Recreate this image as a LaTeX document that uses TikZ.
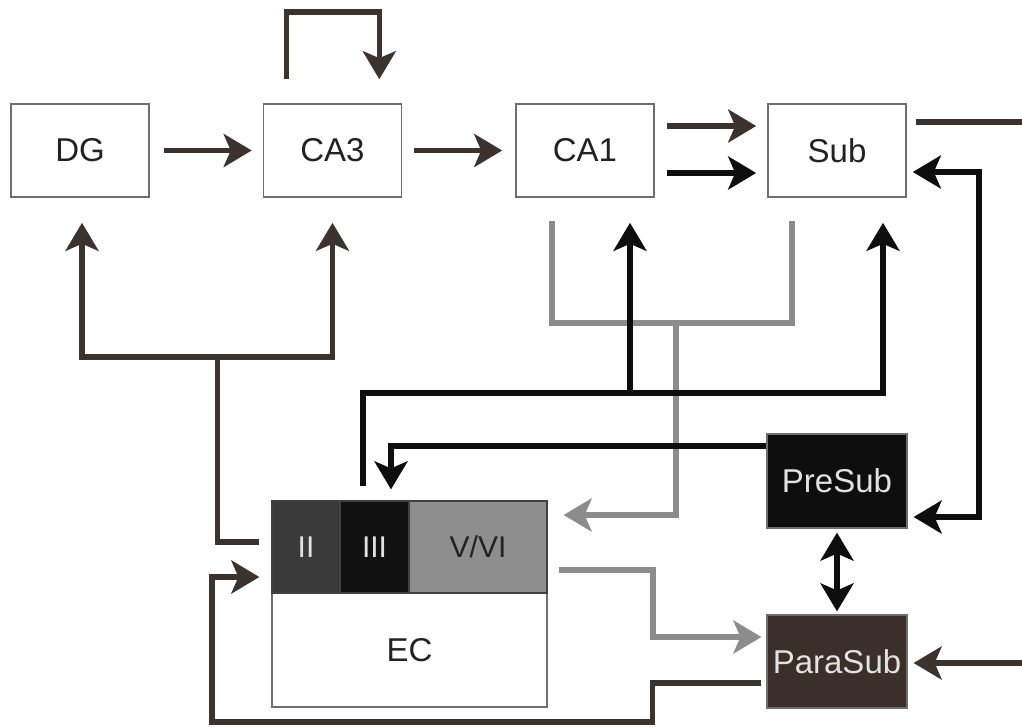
\documentclass[tikz,border=0pt]{standalone}
\usepackage{fontspec}
\setmainfont{Liberation Sans}
\usetikzlibrary{arrows.meta,calc}
\definecolor{cbrown}{HTML}{3C332E}
\definecolor{cblack}{HTML}{0E0E0E}
\definecolor{cgray}{HTML}{8C8C8C}
\definecolor{cbox}{HTML}{6E6E6E}
\definecolor{cII}{HTML}{3A3A3A}
\definecolor{cIII}{HTML}{111111}
\definecolor{cV}{HTML}{8E8E8E}
\definecolor{cpara}{HTML}{3A2F29}
\definecolor{ctext}{HTML}{222222}
\definecolor{clight}{HTML}{E2E2E2}
\begin{document}
\begin{tikzpicture}[x=1pt,y=-1pt,
  box/.style={draw=cbox,line width=1.6pt,fill=white,minimum width=138pt,minimum height=93pt,inner sep=0pt,font=\fontsize{33}{33}\selectfont,text=ctext},
  dbox/.style={draw=cbox,line width=1.2pt,minimum width=140pt,minimum height=94pt,inner sep=0pt,font=\fontsize{33}{33}\selectfont,text=clight},
  cell/.style={draw=black!75,line width=1.2pt,minimum height=92pt,inner sep=0pt,font=\fontsize{30}{30}\selectfont},
  conn/.style={line width=5.5pt},
  tip/.style={-{Stealth[length=28pt,width=33pt,inset=7pt]}},
  dtip/.style={{Stealth[length=28pt,width=33pt,inset=7pt]}-{Stealth[length=28pt,width=33pt,inset=7pt]}},
  brownc/.style={conn,draw=cbrown},
  blackc/.style={conn,draw=cblack},
  grayc/.style={conn,draw=cgray}]
\useasboundingbox (0,0) rectangle (1022,726);

% nodes
\node[box] (DG)  at (80,150.5)  {DG};
\node[box] (CA3) at (332.5,150.5) {CA3};
\node[box] (CA1) at (585,150.5) {CA1};
\node[box] (Sub) at (837,150.5) {Sub};
\node[dbox,fill=cblack] (PreSub) at (837,481) {PreSub};
\node[dbox,fill=cpara,minimum height=93pt] (ParaSub) at (837,661.5) {ParaSub};
\node[box,minimum width=275pt,minimum height=114pt] (EC) at (409.5,650) {EC};
\node[cell,fill=cII,text=clight,minimum width=68pt] (II) at (306,547) {II};
\node[cell,fill=cIII,text=clight,minimum width=69pt] (III) at (374.5,547) {III};
\node[cell,fill=cV,text=ctext,minimum width=138pt] (VVI) at (478,547) {V/VI};

% junctions
\coordinate (jbrown) at (217.5,357);
\coordinate (jblack) at (630,393);
\coordinate (jgray) at (676,323);
\coordinate (offR) at (1032,400);
\coordinate (rbus) at (979,300);
\coordinate (lbus) at (212,650);
\coordinate (gbus) at (653,600);

% top row
\draw[brownc,tip,shorten <=14pt,shorten >=11pt] (DG) -- (CA3);
\draw[brownc,tip,shorten <=12pt,shorten >=13pt] (CA3) -- (CA1);
\draw[brownc,tip] ([xshift=24pt,yshift=24pt]CA3.north west) -- ++(0,-67) -| ([xshift=-23pt,yshift=24pt]CA3.north east);
\draw[brownc,tip] ([xshift=12pt,yshift=24.5pt]CA1.east) -- ([xshift=-11pt,yshift=24.5pt]Sub.west);
\draw[blackc,tip] ([xshift=12pt,yshift=-22.5pt]CA1.east) -- ([xshift=-11pt,yshift=-22.5pt]Sub.west);

% Sub -> ParaSub (outside right edge)
\draw[brownc,tip] ([xshift=9pt,yshift=28.5pt]Sub.east) -| (offR) |- ([xshift=6pt,yshift=-1.5pt]ParaSub.east);

% Sub <-> PreSub
\draw[blackc,dtip] ([xshift=6pt,yshift=-21.5pt]Sub.east) -| (rbus) |- ([xshift=6pt,yshift=-36pt]PreSub.east);

% PreSub <-> ParaSub
\draw[blackc,dtip,shorten <=4pt,shorten >=3pt] (PreSub) -- (ParaSub);

% gray: CA1, Sub -> EC V/VI
\draw[grayc] ([xshift=-33pt,yshift=-23pt]CA1.south) |- (jgray) -| ([xshift=-45pt,yshift=-23pt]Sub.south);
\draw[grayc,tip] (jgray) |- ([xshift=16pt,yshift=32pt]VVI.east);

% EC III -> CA1, Sub
\draw[blackc,tip] ([xshift=-11.5pt,yshift=14pt]III.north) |- (jblack) -| ([xshift=46pt,yshift=-25pt]Sub.south);
\draw[blackc,tip] (jblack) -- ([xshift=45pt,yshift=-25pt]CA1.south);

% PreSub -> EC III
\draw[blackc,tip] ([yshift=35pt]PreSub.west) -| ([xshift=16.5pt,yshift=11pt]III.north);

% EC II -> DG, CA3
\draw[brownc] ([xshift=-12pt,yshift=5pt]II.west) -| (jbrown);
\draw[brownc,tip] (jbrown) -| ([xshift=2pt,yshift=-25pt]DG.south);
\draw[brownc,tip] (jbrown) -| ([yshift=-25pt]CA3.south);

% V/VI -> ParaSub
\draw[grayc,tip] ([xshift=11pt,yshift=-23pt]VVI.east) -| (gbus) |- ([xshift=-5pt,yshift=24.5pt]ParaSub.west);

% ParaSub -> EC
\draw[brownc,tip] ([xshift=-5pt,yshift=-21.5pt]ParaSub.west) -- ++(-109,0) -- ++(0,39) -| (lbus) |- ([xshift=-12pt,yshift=-30pt]II.west);
\end{tikzpicture}
\end{document}
